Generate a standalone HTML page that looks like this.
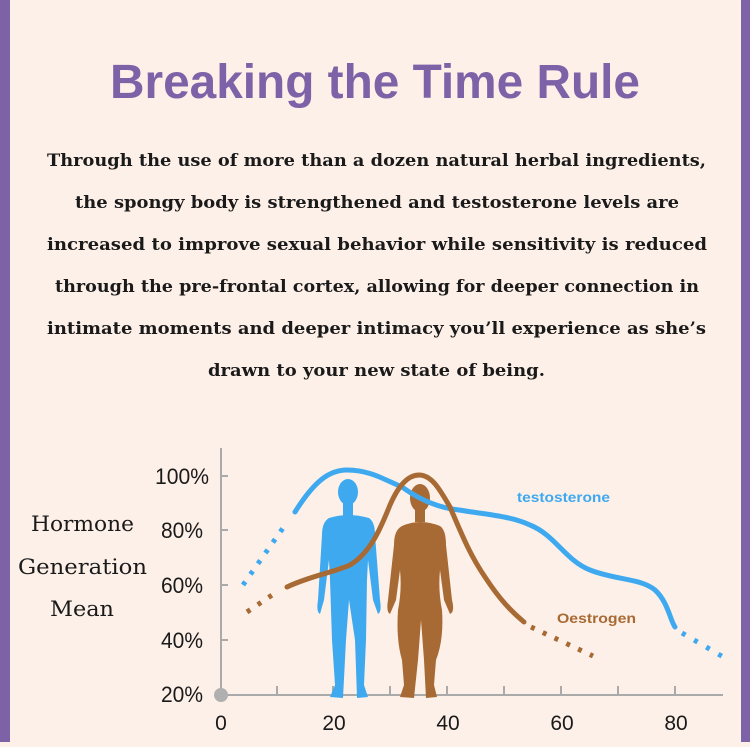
<!DOCTYPE html>
<html><head><meta charset="utf-8"><style>
html,body{margin:0;padding:0;}
body{width:750px;height:742px;overflow:hidden;background:#fdf0e8;}
</style></head><body>
<svg width="750" height="742" viewBox="0 0 750 742" xmlns="http://www.w3.org/2000/svg">
<rect width="750" height="742" fill="#fdf0e8"/>
<rect x="0" y="0" width="10" height="742" fill="#7e62a8"/>
<rect x="741" y="0" width="9" height="742" fill="#7e62a8"/>
<text x="375" y="98" text-anchor="middle" font-family="Liberation Sans, sans-serif" font-weight="bold" font-size="48" fill="#7e62a8" textLength="530" lengthAdjust="spacingAndGlyphs">Breaking the Time Rule</text>
<g font-family="DejaVu Serif, Liberation Serif, serif" font-weight="bold" font-size="17" fill="#1a1a1a" lengthAdjust="spacingAndGlyphs">
<text x="47" y="166" textLength="659" lengthAdjust="spacingAndGlyphs">Through the use of more than a dozen natural herbal ingredients,</text>
<text x="75" y="208" textLength="604" lengthAdjust="spacingAndGlyphs">the spongy body is strengthened and testosterone levels are</text>
<text x="47" y="250" textLength="660" lengthAdjust="spacingAndGlyphs">increased to improve sexual behavior while sensitivity is reduced</text>
<text x="55" y="292" textLength="644" lengthAdjust="spacingAndGlyphs">through the pre-frontal cortex, allowing for deeper connection in</text>
<text x="47" y="334" textLength="659" lengthAdjust="spacingAndGlyphs">intimate moments and deeper intimacy you’ll experience as she’s</text>
<text x="208" y="376" textLength="337" lengthAdjust="spacingAndGlyphs">drawn to your new state of being.</text>
</g>
<g stroke="#aaa" stroke-width="2" fill="none">
<line x1="221" y1="448" x2="221" y2="695"/>
<line x1="221" y1="695" x2="723" y2="695"/>
<line x1="221" y1="476" x2="228" y2="476"/>
<line x1="221" y1="530" x2="228" y2="530"/>
<line x1="221" y1="585" x2="228" y2="585"/>
<line x1="221" y1="640" x2="228" y2="640"/>
<line x1="277" y1="686" x2="277" y2="695"/>
<line x1="333" y1="686" x2="333" y2="695"/>
<line x1="390" y1="686" x2="390" y2="695"/>
<line x1="447" y1="686" x2="447" y2="695"/>
<line x1="504" y1="686" x2="504" y2="695"/>
<line x1="561" y1="686" x2="561" y2="695"/>
<line x1="618" y1="686" x2="618" y2="695"/>
<line x1="675" y1="686" x2="675" y2="695"/>
</g>
<circle cx="221" cy="695" r="7" fill="#b0b0b0"/>
<g font-family="Liberation Sans Narrow, Liberation Sans, sans-serif" font-size="22" fill="#1a1a1a" text-anchor="end">
<text x="209" y="484" textLength="54" lengthAdjust="spacingAndGlyphs">100%</text>
<text x="203" y="538" textLength="42" lengthAdjust="spacingAndGlyphs">80%</text>
<text x="203" y="593" textLength="42" lengthAdjust="spacingAndGlyphs">60%</text>
<text x="203" y="648" textLength="42" lengthAdjust="spacingAndGlyphs">40%</text>
<text x="203" y="702" textLength="42" lengthAdjust="spacingAndGlyphs">20%</text>
</g>
<g font-family="Liberation Sans Narrow, Liberation Sans, sans-serif" font-size="21" fill="#1a1a1a" text-anchor="middle">
<text x="221" y="730">0</text><text x="334" y="730">20</text><text x="448" y="730">40</text><text x="562" y="730">60</text><text x="676" y="730">80</text>
</g>
<g font-family="DejaVu Serif, serif" font-size="21" fill="#1a1a1a">
<text x="31" y="531" textLength="103" lengthAdjust="spacingAndGlyphs">Hormone</text>
<text x="18" y="574" textLength="129" lengthAdjust="spacingAndGlyphs">Generation</text>
<text x="50" y="616" textLength="64" lengthAdjust="spacingAndGlyphs">Mean</text>
</g>
<g fill="#3fa9f0">
<ellipse cx="348" cy="492" rx="10" ry="13"/>
<rect x="343" y="502" width="10" height="14"/>
<path d="M329 518 Q348 512 369 518 Q375 522 375 535 L380 600 Q382 612 378 614 L373 600 L368 560 L367 580 L366 640 L364 685 L368 697 L357 698 L355 640 L349 600 L346 640 L343 698 L330 697 L335 685 L332 640 L330 580 L329 560 L324 600 L320 614 Q316 612 318 600 L322 535 Q322 522 329 518Z"/>
</g>
<g fill="#a86a34">
<ellipse cx="420" cy="498" rx="10" ry="14"/>
<rect x="415" y="508" width="10" height="14"/>
<path d="M402 526 Q420 518 440 526 Q446 530 446 545 L452 600 Q455 612 450 614 L444 600 L440 570 Q438 590 442 610 Q444 640 436 660 L434 685 L437 697 L426 698 L424 660 L421 620 L418 660 L414 698 L400 697 L404 685 L402 660 Q396 640 398 610 Q402 590 400 570 L396 600 L390 614 Q386 612 388 600 L394 545 Q394 530 402 526Z"/>
</g>
<path d="M295 512 C315 480 330 470 347 470 C370 470 385 480 402 487 C420 500 440 508 459 510 C490 515 510 516 530 525 C555 535 565 560 590 570 C615 580 640 578 655 590 C668 602 670 620 675 627" stroke="#3fa9f0" stroke-width="5" fill="none" stroke-linecap="round"/>
<path d="M243 585 L283 528" stroke="#3fa9f0" stroke-width="5" fill="none" stroke-dasharray="4 9"/>
<path d="M682 633 L725 658" stroke="#3fa9f0" stroke-width="5" fill="none" stroke-dasharray="4 10"/>
<path d="M287 587 C310 576 335 572 350 565 C370 553 380 530 390 505 C400 482 410 475 419 475 C432 475 440 490 450 507 C462 535 470 555 485 577 C500 600 512 612 524 622" stroke="#a86a34" stroke-width="5" fill="none" stroke-linecap="round"/>
<path d="M247 612 L278 591" stroke="#a86a34" stroke-width="5" fill="none" stroke-dasharray="4 9"/>
<path d="M531 627 L593 656" stroke="#a86a34" stroke-width="5" fill="none" stroke-dasharray="4 9"/>
<text x="517" y="502" font-family="Liberation Sans, sans-serif" font-size="14" font-weight="bold" fill="#3fa9f0" textLength="93" lengthAdjust="spacingAndGlyphs">testosterone</text>
<text x="557" y="623" font-family="Liberation Sans, sans-serif" font-size="14" font-weight="bold" fill="#a86a34" textLength="79" lengthAdjust="spacingAndGlyphs">Oestrogen</text>
</svg>
</body></html>
